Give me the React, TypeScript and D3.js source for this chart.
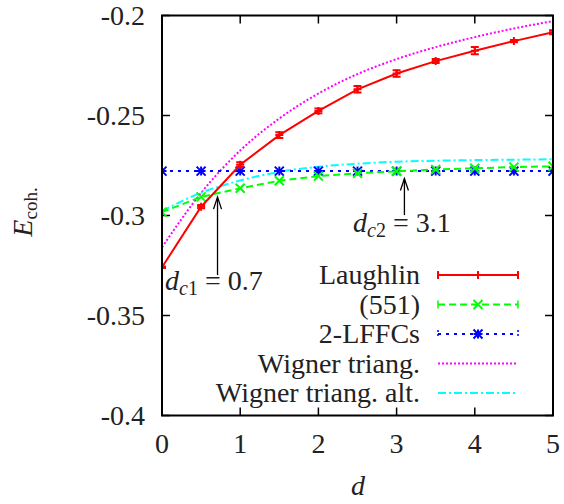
import React from "react";
import * as d3 from "d3";

const dValues = [0, 0.5, 1, 1.5, 2, 2.5, 3, 3.5, 4, 4.5, 5];
const laughlin = [-0.3259, -0.2956, -0.2746, -0.2598, -0.2477, -0.2369, -0.2290, -0.2228, -0.2176, -0.2128, -0.2084];
const laughlinErr = [0.0004, 0.0008, 0.0012, 0.0014, 0.0012, 0.0016, 0.0016, 0.001, 0.0018, 0.0006, 0.001];
const state551 = [-0.2983, -0.2907, -0.2864, -0.2826, -0.2803, -0.2789, -0.2779, -0.2770, -0.2764, -0.2758, -0.2754];
const lffc = [-0.2778, -0.2778, -0.2778, -0.2778, -0.2778, -0.2778, -0.2778, -0.2778, -0.2778, -0.2778, -0.2778];
const wigner = [-0.3159, -0.2887, -0.2675, -0.2515, -0.2390, -0.2293, -0.2218, -0.2158, -0.2108, -0.2065, -0.2028];
const wignerAlt = [-0.2978, -0.2886, -0.2825, -0.2782, -0.2756, -0.2741, -0.2731, -0.2726, -0.2723, -0.2721, -0.2719];

const xTicks = [0, 1, 2, 3, 4, 5];
const yTicks = [-0.4, -0.35, -0.3, -0.25, -0.2];
const yTickLabels = ["-0.4", "-0.35", "-0.3", "-0.25", "-0.2"];

const legendLabels = ["Laughlin", "(551)", "2-LFFCs", "Wigner triang.", "Wigner triang. alt."];
const annotations = [
  { d: 0.71, from: -0.3298, to: -0.2908, sub: "c1", value: "0.7" },
  { d: 3.1, from: -0.2998, to: -0.2815, sub: "c2", value: "3.1" },
];

const FONT = "Liberation Serif";

const M = { left: 162, right: 553, top: 15.5, bottom: 415.5 };

export default function App() {
  const x = d3.scaleLinear().domain([0, 5]).range([M.left, M.right]);
  const y = d3.scaleLinear().domain([-0.4, -0.2]).range([M.bottom, M.top]);

  const line = (vals: number[], curve = d3.curveLinear) =>
    d3
      .line<number>()
      .x((_, i) => x(dValues[i]))
      .y((v) => y(v))
      .curve(curve)(vals) as string;

  const plus = (cx: number, cy: number, s: number, color: string, key: string) => (
    <path key={key} d={`M${cx - s},${cy}H${cx + s}M${cx},${cy - s}V${cy + s}`} stroke={color} strokeWidth={2} fill="none" />
  );
  const cross = (cx: number, cy: number, s: number, color: string, key: string) => (
    <path key={key} d={`M${cx - s},${cy - s}L${cx + s},${cy + s}M${cx - s},${cy + s}L${cx + s},${cy - s}`} stroke={color} strokeWidth={2} fill="none" />
  );
  const star = (cx: number, cy: number, s: number, color: string, key: string) => (
    <g key={key}>
      {plus(cx, cy, s, color, key + "p")}
      {cross(cx, cy, s, color, key + "x")}
    </g>
  );

  const red = "#ff0000";
  const green = "#00ff00";
  const blue = "#0000ff";
  const magenta = "#ff00ff";
  const cyan = "#00ffff";

  const legendY = [275, 304.5, 334, 363.5, 393];
  const lx1 = 438;
  const lx2 = 518;
  const lxm = (lx1 + lx2) / 2;
  const legendTextX = 420;
  const FS = 28;

  return (
    <svg width={564} height={504} style={{ position: "absolute", left: 0, top: 0, background: "#fff" }}>
      <style>{`text, tspan { font-family: "Liberation Serif", "Times New Roman", serif !important; }`}</style>
      <rect x={0} y={0} width={564} height={504} fill="#fff" />
      <defs>
        <clipPath id="plotclip">
          <rect x={M.left} y={M.top} width={M.right - M.left} height={M.bottom - M.top} />
        </clipPath>
      </defs>

      {xTicks.map((t) => (
        <g key={"xt" + t}>
          <line x1={x(t)} x2={x(t)} y1={M.bottom} y2={M.bottom - 8} stroke="#000" strokeWidth={1.5} />
          <line x1={x(t)} x2={x(t)} y1={M.top} y2={M.top + 8} stroke="#000" strokeWidth={1.5} />
          <text x={x(t)} y={453} textAnchor="middle" fontSize={FS} fill="#222" fontFamily={FONT}>
            {String(t)}
          </text>
        </g>
      ))}
      {yTicks.map((t, i) => (
        <g key={"yt" + t}>
          <line x1={M.left} x2={M.left + 8} y1={y(t)} y2={y(t)} stroke="#000" strokeWidth={1.5} />
          <line x1={M.right} x2={M.right - 8} y1={y(t)} y2={y(t)} stroke="#000" strokeWidth={1.5} />
          <text x={145} y={y(t) + 9} textAnchor="end" fontSize={FS} fill="#222" fontFamily={FONT}>
            {yTickLabels[i]}
          </text>
        </g>
      ))}

      <text transform="translate(32,212) rotate(-90)" textAnchor="middle" fontSize={FS} fill="#222" fontFamily={FONT}>
        <tspan fontStyle="italic">E</tspan>
        <tspan fontSize={19} dy={5}>coh.</tspan>
      </text>
      <text x={358} y={495} textAnchor="middle" fontSize={FS} fontStyle="italic" fill="#222" fontFamily={FONT}>
        d
      </text>

      <g clipPath="url(#plotclip)">
        <path d={line(wigner, d3.curveMonotoneX)} fill="none" stroke={magenta} strokeWidth={2} strokeDasharray="2,2" />
        <path d={line(wignerAlt, d3.curveMonotoneX)} fill="none" stroke={cyan} strokeWidth={2} strokeDasharray="8,3,2,3" />
        <path d={line(lffc)} fill="none" stroke={blue} strokeWidth={2} strokeDasharray="3,5" />
        {lffc.map((v, i) => star(x(dValues[i]), y(v), 4.5, blue, "b" + i))}
        <path d={line(state551)} fill="none" stroke={green} strokeWidth={2} strokeDasharray="7,4" />
        {state551.map((v, i) => cross(x(dValues[i]), y(v), 4.5, green, "g" + i))}
        <path d={line(laughlin)} fill="none" stroke={red} strokeWidth={2} />
        {laughlin.map((v, i) => {
          const cx = x(dValues[i]);
          const e = laughlinErr[i];
          const y1 = y(v - e);
          const y2 = y(v + e);
          return (
            <g key={"r" + i}>
              <path
                d={`M${cx},${y1}V${y2}M${cx - 4},${y1}H${cx + 4}M${cx - 4},${y2}H${cx + 4}`}
                stroke={red}
                strokeWidth={2}
                fill="none"
              />
              {plus(cx, y(v), 4, red, "rp" + i)}
            </g>
          );
        })}
      </g>

      {annotations.map((a, i) => {
        const ax = x(a.d);
        const ty = y(a.to);
        const fy = y(a.from);
        const lblX = i === 0 ? 165 : 353;
        const lblY = i === 0 ? 290 : 232;
        return (
          <g key={"an" + i}>
            <line x1={ax} x2={ax} y1={fy} y2={ty} stroke="#000" strokeWidth={1.3} />
            <path d={`M${ax - 4},${ty + 12}L${ax},${ty}L${ax + 4},${ty + 12}`} stroke="#000" strokeWidth={1.3} fill="none" />
            <text x={lblX} y={lblY} fontSize={FS} fill="#222" fontFamily={FONT}>
              <tspan fontStyle="italic">d</tspan>
              <tspan fontSize={20} dy={5} fontStyle="italic">c</tspan>
              <tspan fontSize={20}>{a.sub.slice(1)}</tspan>
              <tspan dy={-5}>{" = " + a.value}</tspan>
            </text>
          </g>
        );
      })}

      {legendLabels.map((lbl, i) => (
        <text key={"lt" + i} x={legendTextX} y={legendY[i] + 9} textAnchor="end" fontSize={FS} fill="#222" fontFamily={FONT}>
          {lbl}
        </text>
      ))}
      <g>
        <path d={`M${lx1},${legendY[0]}H${lx2}M${lx1},${legendY[0] - 4}V${legendY[0] + 4}M${lx2},${legendY[0] - 4}V${legendY[0] + 4}`} stroke={red} strokeWidth={2} fill="none" />
        {plus(lxm, legendY[0], 4, red, "lp")}
        <path d={`M${lx1},${legendY[1]}H${lx2}`} stroke={green} strokeWidth={2} strokeDasharray="7,4" fill="none" />
        <path d={`M${lx1},${legendY[1] - 4}V${legendY[1] + 4}M${lx2},${legendY[1] - 4}V${legendY[1] + 4}`} stroke={green} strokeWidth={1.5} fill="none" />
        {cross(lxm, legendY[1], 4.5, green, "lg")}
        <path d={`M${lx1},${legendY[2]}H${lx2}`} stroke={blue} strokeWidth={2} strokeDasharray="3,5" fill="none" />
        <path d={`M${lx1},${legendY[2] - 4}V${legendY[2] + 4}M${lx2},${legendY[2] - 4}V${legendY[2] + 4}`} stroke={blue} strokeWidth={1.5} strokeDasharray="2,2" fill="none" />
        {star(lxm, legendY[2], 4.5, blue, "lb")}
        <path d={`M${lx1},${legendY[3]}H${lx2}`} stroke={magenta} strokeWidth={2} strokeDasharray="2,2" fill="none" />
        <path d={`M${lx1},${legendY[4]}H${lx2}`} stroke={cyan} strokeWidth={2} strokeDasharray="8,3,2,3" fill="none" />
      </g>

      <rect x={M.left} y={M.top} width={M.right - M.left} height={M.bottom - M.top} fill="none" stroke="#000" strokeWidth={2} />
    </svg>
  );
}
